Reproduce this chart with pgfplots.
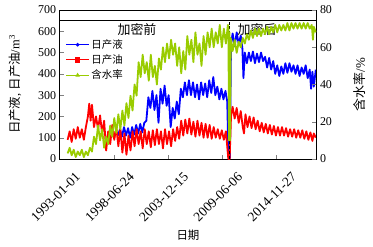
\documentclass[border=0pt]{standalone}
\usepackage{fontspec}
\setmainfont{Liberation Serif}
\newfontfamily\cjk{Noto Sans CJK SC}
\usepackage{pgfplots}
\pgfplotsset{compat=1.18}
\definecolor{cblue}{RGB}{0,0,255}
\definecolor{cred}{RGB}{255,0,0}
\definecolor{cgreen}{RGB}{153,204,0}
\begin{document}
\begin{tikzpicture}
\path[use as bounding box] (-59.5bp,-88bp) rectangle (313.5bp,159bp);
\begin{axis}[
  scale only axis, width=257bp, height=149bp,
  xmin=0, xmax=9500, ymin=0, ymax=700,
  tick pos=left, tick align=inside,
  xtick={0,2000,4000,6000,8000},
  xticklabels={1993-01-01,1998-06-24,2003-12-15,2009-06-06,2014-11-27},
  ytick={0,100,...,700},
  /pgf/number format/assume math mode=true,
  tick label style={font=\fontsize{12}{12}\selectfont},
  xticklabel style={xshift=15bp, yshift=-11bp, rotate=45, anchor=north east, inner sep=1pt, font=\fontsize{13.5}{13.5}\selectfont},
  axis line style={line width=0.6pt},
  every axis y label/.style={at={(axis description cs:-0.173,0.5)}, rotate=90, anchor=center},
  every axis x label/.style={at={(axis description cs:0.5,-0.51)}, anchor=center},
  ylabel={\fontsize{12.5}{12.5}\selectfont{\cjk 日产液}, {\cjk 日产油}/m\textsuperscript{3}},
  xlabel={\fontsize{11.5}{11.5}\selectfont\cjk 日期},
]
\addplot[cblue, line width=1.8pt, line join=round] coordinates {
(2160,110)(2235,140)(2310,105)(2385,150)(2460,110)(2535,145)(2610,100)(2685,150)(2760,115)(2835,160)(2910,120)(2985,165)(3060,125)(3135,170)(3210,180)(3285,290)(3360,240)(3435,320)(3510,230)(3585,300)(3660,170)(3735,330)(3810,260)(3885,345)(3960,250)(4035,300)(4110,150)(4185,240)(4260,190)(4335,270)(4410,210)(4485,330)(4560,290)(4635,360)(4710,300)(4785,370)(4860,300)(4935,360)(5010,290)(5085,350)(5160,280)(5235,360)(5310,300)(5385,355)(5460,290)(5535,370)(5610,310)(5685,385)(5760,300)(5835,340)(5910,280)(5985,330)(6060,280)(6135,320)(6200,270)(6230,100)(6260,5)(6300,5)(6340,540)(6400,590)(6475,530)(6550,595)(6625,540)(6700,580)(6760,520)(6800,380)(6850,500)(6925,450)(7000,500)(7075,460)(7150,505)(7225,450)(7300,495)(7375,455)(7450,500)(7525,460)(7600,480)(7675,430)(7750,475)(7825,420)(7900,460)(7975,400)(8050,440)(8125,390)(8200,435)(8275,400)(8350,450)(8425,405)(8500,450)(8575,410)(8650,440)(8725,400)(8800,440)(8875,390)(8950,430)(9025,400)(9100,440)(9175,380)(9250,420)(9300,330)(9350,410)(9400,340)(9475,420)
};
\addplot[cred, line width=1.8pt, line join=round] coordinates {
(300,90)(375,130)(450,80)(525,140)(600,95)(675,150)(750,100)(825,140)(900,90)(975,150)(1050,200)(1100,260)(1150,180)(1200,255)(1275,150)(1350,200)(1425,140)(1500,205)(1575,120)(1650,180)(1725,40)(1800,130)(1875,70)(1950,160)(2025,90)(2100,150)(2175,60)(2250,140)(2325,30)(2400,120)(2475,20)(2550,110)(2625,40)(2700,130)(2775,60)(2850,140)(2925,70)(3000,130)(3075,50)(3150,140)(3225,70)(3300,130)(3375,55)(3450,135)(3525,65)(3600,140)(3675,70)(3750,130)(3825,50)(3900,140)(3975,70)(4050,130)(4125,60)(4200,140)(4275,85)(4350,150)(4425,95)(4500,180)(4575,110)(4650,185)(4725,120)(4800,190)(4875,115)(4950,175)(5025,105)(5100,180)(5175,110)(5250,170)(5325,100)(5400,165)(5475,100)(5550,160)(5625,95)(5700,150)(5775,100)(5850,140)(5925,95)(6000,135)(6075,90)(6150,130)(6200,60)(6240,0)(6290,0)(6340,200)(6400,245)(6475,190)(6550,240)(6625,170)(6700,225)(6775,150)(6820,120)(6875,210)(6950,150)(7025,200)(7100,145)(7175,195)(7250,140)(7325,180)(7400,130)(7475,170)(7550,125)(7625,165)(7700,120)(7775,160)(7850,115)(7925,155)(8000,110)(8075,150)(8150,110)(8225,150)(8300,110)(8375,145)(8450,105)(8525,140)(8600,105)(8675,140)(8750,100)(8825,135)(8900,100)(8975,135)(9050,95)(9125,130)(9200,90)(9275,125)(9350,85)(9400,120)(9475,100)
};
\draw[line width=0.6pt] (axis cs:0,650) -- (axis cs:9500,650);
\draw[line width=0.7pt, dash pattern=on 3pt off 2pt] (axis cs:6276,0) -- (axis cs:6276,650);
\node[font=\fontsize{13}{13}\selectfont\cjk] at (axis cs:2864,606) {加密前};
\node[font=\fontsize{13}{13}\selectfont\cjk] at (axis cs:7300,606) {加密后};
\end{axis}
\begin{axis}[
  scale only axis, width=257bp, height=149bp,
  xmin=0, xmax=9500, ymin=0, ymax=80,
  axis y line*=right, axis x line=none,
  tick align=inside,
  ytick={0,20,...,80},
  /pgf/number format/assume math mode=true,
  tick label style={font=\fontsize{12}{12}\selectfont},
  axis line style={line width=0.6pt},
  every axis y label/.style={at={(axis description cs:1.169,0.5)}, rotate=90, anchor=center},
  ylabel={\fontsize{13}{13}\selectfont{\cjk 含水率}/\%},
  legend style={at={(rel axis cs:0.012,0.83)}, anchor=north west, draw=none, fill=none,
    font=\fontsize{10.5}{10.5}\selectfont\cjk, row sep=1pt},
  legend cell align=left,
  legend image code/.code={\draw[mark repeat=2,mark phase=2,#1] plot coordinates {(0cm,0cm) (0.4cm,0cm) (0.8cm,0cm)};},
]
\addlegendimage{cblue, line width=1pt, mark=*, mark size=1.3pt}
\addlegendentry{日产液}
\addlegendimage{cred, line width=1pt, mark=square*, mark size=2.2pt}
\addlegendentry{日产油}
\addlegendimage{cgreen, line width=1pt, mark=triangle*, mark size=1.6pt}
\addlegendentry{含水率}
\addplot[cgreen, line width=1.8pt, line join=round, forget plot] coordinates {
(300,3)(375,6)(450,2)(525,5)(600,1)(675,4)(750,2)(825,5)(900,1)(975,4)(1050,2)(1125,6)(1200,4)(1275,12)(1350,8)(1425,18)(1500,10)(1575,16)(1650,6)(1725,12)(1800,8)(1875,18)(1950,12)(2025,22)(2100,14)(2175,24)(2250,16)(2325,26)(2400,18)(2475,30)(2550,22)(2625,34)(2700,26)(2775,40)(2850,34)(2925,52)(3000,44)(3075,56)(3150,46)(3225,52)(3300,42)(3375,56)(3450,44)(3525,50)(3600,40)(3675,54)(3750,48)(3825,60)(3900,52)(3975,62)(4050,54)(4125,64)(4200,56)(4275,62)(4350,50)(4425,60)(4500,46)(4575,58)(4650,48)(4725,66)(4800,56)(4875,64)(4950,52)(5025,68)(5100,56)(5175,62)(5250,50)(5325,66)(5400,56)(5475,68)(5550,60)(5625,70)(5700,60)(5775,68)(5850,62)(5925,72)(6000,60)(6075,70)(6150,62)(6225,72)(6245,70)(6265,10)(6285,68)(6305,10)(6330,65)(6400,58)(6475,64)(6550,57)(6625,63)(6700,60)(6775,65)(6850,62)(6925,67)(7000,64)(7075,69)(7150,65)(7225,70)(7300,66)(7375,70)(7450,66)(7525,70)(7600,67)(7675,71)(7750,67)(7825,71)(7900,68)(7975,72)(8050,68)(8125,72)(8200,69)(8275,72)(8350,69)(8425,73)(8500,69)(8575,73)(8650,70)(8725,73)(8800,70)(8875,73)(8950,70)(9025,73)(9100,70)(9175,73)(9250,70)(9325,72)(9370,64)(9400,71)(9475,68)
};
\end{axis}
\end{tikzpicture}
\end{document}
